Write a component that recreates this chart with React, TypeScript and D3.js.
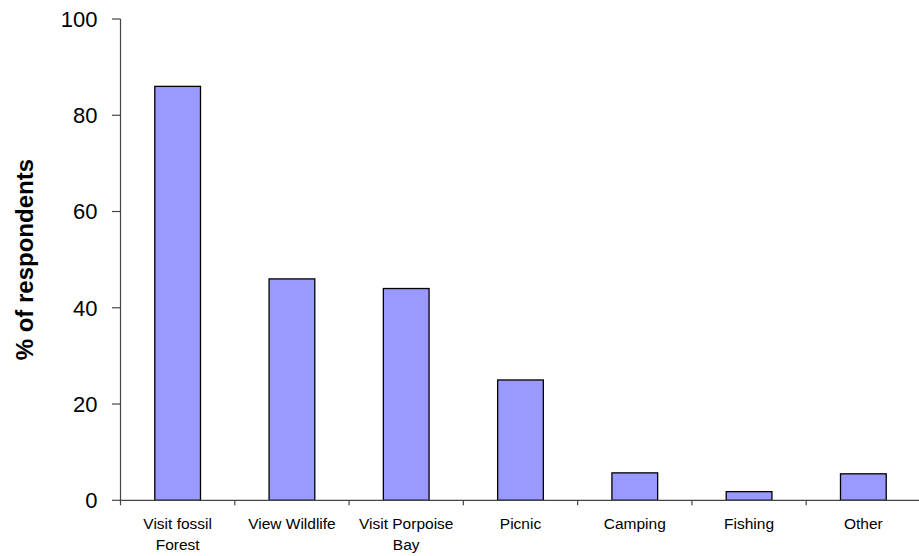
import React from "react";
import * as d3 from "d3";

const categories: string[][] = [
  ["Visit fossil", "Forest"],
  ["View Wildlife"],
  ["Visit Porpoise", "Bay"],
  ["Picnic"],
  ["Camping"],
  ["Fishing"],
  ["Other"],
];
const values: number[] = [86, 46, 44, 25, 5.7, 1.8, 5.5];
const yTicks: number[] = [0, 20, 40, 60, 80, 100];
const yTitle = "% of respondents";

const W = 919;
const H = 556;
const margin = { left: 120.5, right: -1.5, top: 19, bottom: 55.7 };

export default function App() {
  const x0 = margin.left;
  const x1 = W - margin.right;
  const y0 = H - margin.bottom;
  const y1 = margin.top;
  const ids = categories.map((_, i) => String(i));
  const x = d3.scaleBand<string>().domain(ids).range([x0, x1]).paddingInner(0.6).paddingOuter(0.3);
  const xb = d3.scaleBand<string>().domain(ids).range([x0, x1]);
  const y = d3.scaleLinear().domain([0, 100]).range([y0, y1]);
  const font = "'Liberation Sans', Arial, sans-serif";
  return (
    <svg width={W} height={H} style={{ position: "absolute", left: 0, top: 0, background: "#fff" }} fontFamily={font}>
      {values.map((v, i) => (
        <rect
          key={i}
          x={x(String(i))!}
          y={y(v)}
          width={x.bandwidth()}
          height={y0 - y(v)}
          fill="#9999FF"
          stroke="#000"
          strokeWidth={1.3}
        />
      ))}
      <line x1={x0} x2={x0} y1={y1} y2={y0} stroke="#444" strokeWidth={1.2} />
      <line x1={x0} x2={x1} y1={y0} y2={y0} stroke="#444" strokeWidth={1.2} />
      {yTicks.map((t) => (
        <g key={t}>
          <line x1={x0 - 8.5} x2={x0} y1={y(t)} y2={y(t)} stroke="#444" strokeWidth={1.2} />
          <text x={x0 - 23} y={y(t)} dy="0.36em" textAnchor="end" fontSize={22} fill="#000">
            {t}
          </text>
        </g>
      ))}
      {ids.map((id) => (
        <line key={id} x1={xb(id)!} x2={xb(id)!} y1={y0} y2={y0 + 5} stroke="#444" strokeWidth={1.2} />
      ))}
      {categories.map((lines, i) => (
        <text
          key={i}
          x={xb(String(i))! + xb.bandwidth() / 2}
          y={y0 + 29}
          textAnchor="middle"
          fontSize={15.5}
          fill="#000"
        >
          {lines.map((l, j) => (
            <tspan key={j} x={xb(String(i))! + xb.bandwidth() / 2} dy={j === 0 ? 0 : 21}>
              {l}
            </tspan>
          ))}
        </text>
      ))}
      <text
        transform={`translate(33, ${(y0 + y1) / 2}) rotate(-90)`}
        textAnchor="middle"
        fontSize={24}
        fontWeight="bold"
        fill="#000"
      >
        {yTitle}
      </text>
    </svg>
  );
}
